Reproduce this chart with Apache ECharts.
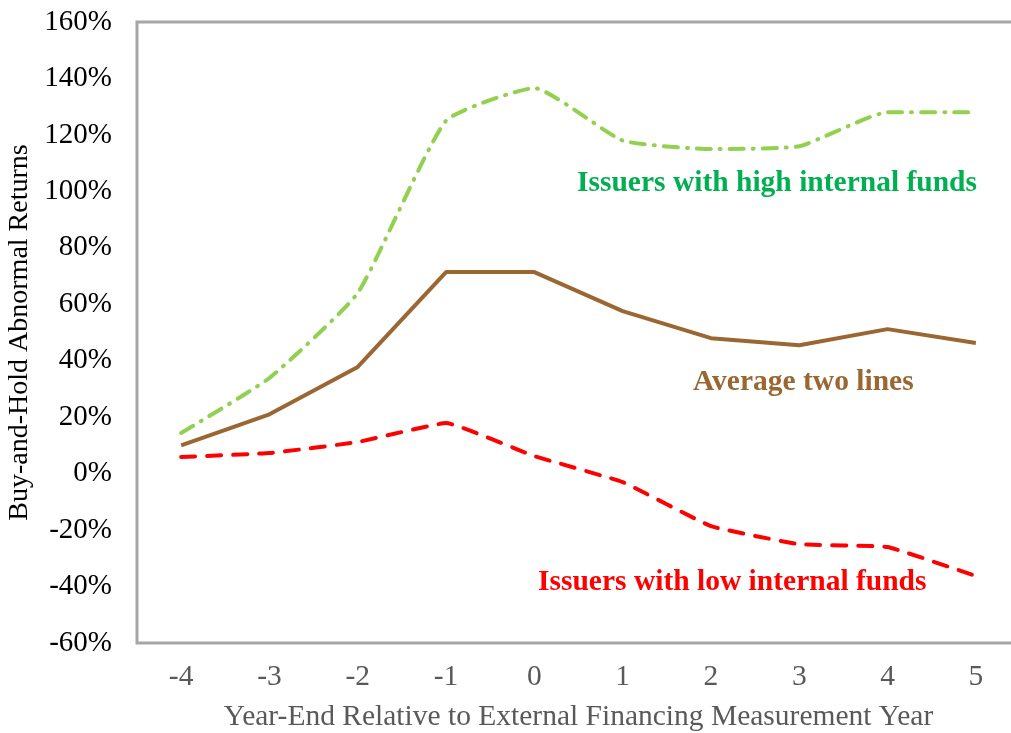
<!DOCTYPE html>
<html>
<head>
<meta charset="utf-8">
<script src="https://cdn.jsdelivr.net/npm/echarts@6/dist/echarts.min.js"></script>
<style>
html,body{margin:0;padding:0;background:#fff;}
#c{width:1011px;height:733px;}
</style>
</head>
<body>
<div id="c"></div>
<script>
const categories = ['-4','-3','-2','-1','0','1','2','3','4','5'];
const highFunds = [14.4, 33.9, 64, 125, 136.6, 118, 115, 116, 128, 128];
const lowFunds = [5.9, 7.3, 11.2, 17.9, 6.2, -3, -18.6, -25, -26, -36.3];
const average = [10, 21, 37.8, 71.4, 71.4, 57.6, 48, 45.5, 51.2, 46.3];
const yTicks = { min: -60, max: 160, interval: 20 };

const FONT = '"Liberation Serif", "Times New Roman", serif';
const chart = echarts.init(document.getElementById('c'), null, {renderer: 'canvas'});
chart.setOption({
  animation: false,
  backgroundColor: '#fff',
  grid: {
    left: 137, top: 22, width: 883, height: 621,
    containLabel: false,
    outerBoundsMode: 'none',
    show: true, borderColor: '#A6A6A6', borderWidth: 3, backgroundColor: 'transparent'
  },
  xAxis: {
    type: 'category',
    data: categories,
    boundaryGap: true,
    axisLine: {show: false},
    axisTick: {show: false},
    axisLabel: {color: '#595959', fontFamily: FONT, fontSize: 29.5, margin: 19},
    name: 'Year-End Relative to External Financing Measurement Year',
    nameLocation: 'middle',
    nameGap: 59,
    nameTextStyle: {color: '#595959', fontFamily: FONT, fontSize: 29.5}
  },
  yAxis: {
    type: 'value',
    min: yTicks.min, max: yTicks.max, interval: yTicks.interval,
    splitLine: {show: false},
    axisLine: {show: false},
    axisTick: {show: false},
    axisLabel: {color: '#000', fontFamily: FONT, fontSize: 29, margin: 25, formatter: '{value}%'},
    name: 'Buy-and-Hold Abnormal Returns',
    nameLocation: 'middle',
    nameGap: 100,
    nameTextStyle: {color: '#000', fontFamily: FONT, fontSize: 28}
  },
  series: [
    {
      name: 'Issuers with high internal funds',
      type: 'line',
      data: highFunds,
      smooth: 0.15,
      symbol: 'none',
      lineStyle: {color: '#92D050', width: 4, type: [14, 9, 1, 9], cap: 'round'}
    },
    {
      name: 'Average two lines',
      type: 'line',
      data: average,
      symbol: 'none',
      lineStyle: {color: '#9A6733', width: 4, type: 'solid'}
    },
    {
      name: 'Issuers with low internal funds',
      type: 'line',
      data: lowFunds,
      smooth: 0.1,
      symbol: 'none',
      lineStyle: {color: '#FF0000', width: 4, type: [14, 12], cap: 'round'}
    }
  ],
  graphic: [
    {type: 'text', left: 577, top: 168, style: {text: 'Issuers with high internal funds', fill: '#00B050', font: 'bold 29.5px ' + FONT}},
    {type: 'text', left: 693, top: 367, style: {text: 'Average two lines', fill: '#9A6733', font: 'bold 29.5px ' + FONT}},
    {type: 'text', left: 538, top: 567, style: {text: 'Issuers with low internal funds', fill: '#FF0000', font: 'bold 29.5px ' + FONT}}
  ]
});
</script>
</body>
</html>
